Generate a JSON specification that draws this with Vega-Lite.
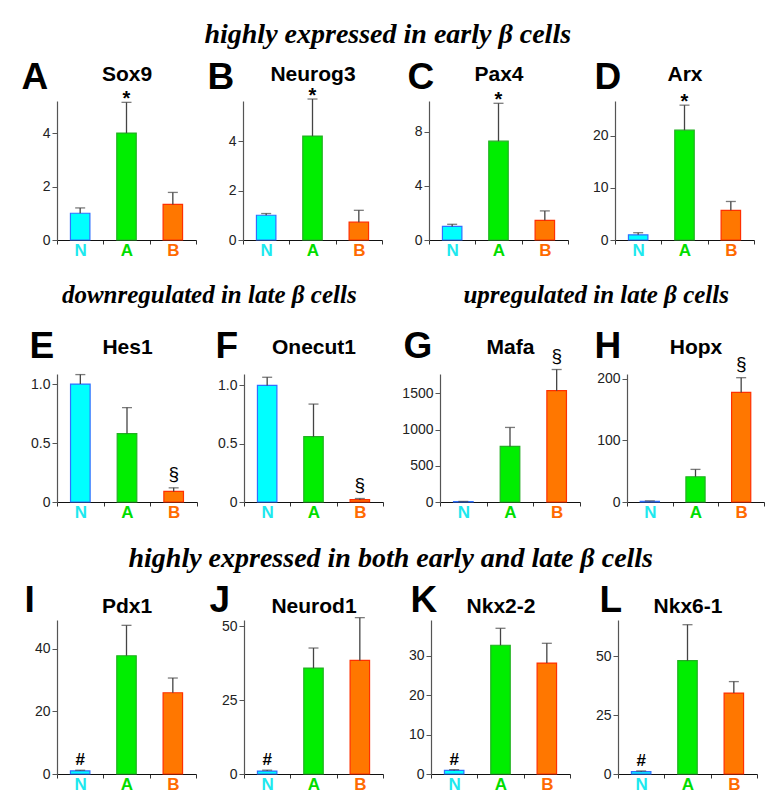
{
  "$schema": "https://vega.github.io/schema/vega-lite/v6.json",
  "background": "white",
  "padding": {"left": 21, "top": 21, "right": 0, "bottom": 0},
  "spacing": 25,
  "datasets": {
    "d": [
      {"gene": "Sox9", "cond": "N", "value": 1.0, "hi": 1.2, "sym": ""},
      {"gene": "Sox9", "cond": "A", "value": 4.0, "hi": 5.15, "sym": "*"},
      {"gene": "Sox9", "cond": "B", "value": 1.33, "hi": 1.78, "sym": ""},
      {"gene": "Neurog3", "cond": "N", "value": 1.0, "hi": 1.07, "sym": ""},
      {"gene": "Neurog3", "cond": "A", "value": 4.2, "hi": 5.7, "sym": "*"},
      {"gene": "Neurog3", "cond": "B", "value": 0.72, "hi": 1.2, "sym": ""},
      {"gene": "Pax4", "cond": "N", "value": 1.0, "hi": 1.16, "sym": ""},
      {"gene": "Pax4", "cond": "A", "value": 7.3, "hi": 10.1, "sym": "*"},
      {"gene": "Pax4", "cond": "B", "value": 1.45, "hi": 2.15, "sym": ""},
      {"gene": "Arx", "cond": "N", "value": 1.0, "hi": 1.4, "sym": ""},
      {"gene": "Arx", "cond": "A", "value": 21.1, "hi": 25.9, "sym": "*"},
      {"gene": "Arx", "cond": "B", "value": 5.7, "hi": 7.4, "sym": ""},
      {"gene": "Hes1", "cond": "N", "value": 1.0, "hi": 1.08, "sym": ""},
      {"gene": "Hes1", "cond": "A", "value": 0.58, "hi": 0.8, "sym": ""},
      {"gene": "Hes1", "cond": "B", "value": 0.09, "hi": 0.12, "sym": "§"},
      {"gene": "Onecut1", "cond": "N", "value": 1.0, "hi": 1.07, "sym": ""},
      {"gene": "Onecut1", "cond": "A", "value": 0.56, "hi": 0.84, "sym": ""},
      {"gene": "Onecut1", "cond": "B", "value": 0.02, "hi": 0.03, "sym": "§"},
      {"gene": "Mafa", "cond": "N", "value": 5, "hi": 8, "sym": ""},
      {"gene": "Mafa", "cond": "A", "value": 768, "hi": 1030, "sym": ""},
      {"gene": "Mafa", "cond": "B", "value": 1537, "hi": 1830, "sym": "§"},
      {"gene": "Hopx", "cond": "N", "value": 1.2, "hi": 1.8, "sym": ""},
      {"gene": "Hopx", "cond": "A", "value": 41, "hi": 53, "sym": ""},
      {"gene": "Hopx", "cond": "B", "value": 178, "hi": 202, "sym": "§"},
      {"gene": "Pdx1", "cond": "N", "value": 1.0, "hi": 1.2, "sym": "#"},
      {"gene": "Pdx1", "cond": "A", "value": 37.7, "hi": 47.4, "sym": ""},
      {"gene": "Pdx1", "cond": "B", "value": 25.9, "hi": 30.6, "sym": ""},
      {"gene": "Neurod1", "cond": "N", "value": 1.0, "hi": 1.3, "sym": "#"},
      {"gene": "Neurod1", "cond": "A", "value": 35.9, "hi": 42.7, "sym": ""},
      {"gene": "Neurod1", "cond": "B", "value": 38.5, "hi": 53, "sym": ""},
      {"gene": "Nkx2-2", "cond": "N", "value": 0.9, "hi": 1.1, "sym": "#"},
      {"gene": "Nkx2-2", "cond": "A", "value": 32.6, "hi": 36.9, "sym": ""},
      {"gene": "Nkx2-2", "cond": "B", "value": 28.1, "hi": 33.1, "sym": ""},
      {"gene": "Nkx6-1", "cond": "N", "value": 1.0, "hi": 1.3, "sym": "#"},
      {"gene": "Nkx6-1", "cond": "A", "value": 48.2, "hi": 63.5, "sym": ""},
      {"gene": "Nkx6-1", "cond": "B", "value": 34.4, "hi": 39.3, "sym": ""}
    ]
  },
  "data": {"name": "d"},
  "vconcat": [
    {
      "title": {"text": "highly expressed in early β cells", "offset": 9},
      "bounds": "flush",
      "spacing": 47,
      "hconcat": [
        {
          "width": 139, "height": 139,
          "transform": [{"filter": "datum.gene === 'Sox9'"}],
          "encoding": {
            "x": {"field": "cond", "type": "nominal", "sort": ["N", "A", "B"], "scale": {"paddingInner": 0, "paddingOuter": 0},
              "axis": {"title": "Sox9", "titleY": -160, "labelColor": {"condition": [{"test": "datum.value === 'N'", "value": "#1EE8EE"}, {"test": "datum.value === 'A'", "value": "#00DD00"}], "value": "#FF6A00"}}},
            "y": {"field": "value", "type": "quantitative", "scale": {"domain": [0, 5.2], "nice": false}, "title": "A",
              "axis": {"titleX": -36, "titleY": -13, "values": [0, 2, 4]}}
          },
          "layer": [
            {"mark": {"type": "bar", "width": {"band": 0.42}, "strokeWidth": 1.2}, "encoding": {"fill": {"field": "cond", "type": "nominal", "scale": {"domain": ["N", "A", "B"], "range": ["#00FFFF", "#00EE00", "#FF7700"]}, "legend": null}, "stroke": {"field": "cond", "type": "nominal", "scale": {"domain": ["N", "A", "B"], "range": ["#3070FF", "#22B022", "#FF3000"]}, "legend": null}}},
            {"mark": {"type": "rule", "color": "#444", "strokeWidth": 1.3}, "encoding": {"y2": {"field": "hi"}}},
            {"mark": {"type": "tick", "color": "#444", "thickness": 1.3, "size": 10}, "encoding": {"y": {"field": "hi", "type": "quantitative", "scale": {"domain": [0, 5.2], "nice": false}, "title": "A"}}},
            {"mark": {"type": "text", "font": "Liberation Sans", "fontSize": 20, "fontWeight": "bold", "baseline": "alphabetic", "dy": 3, "color": "#000"}, "encoding": {"y": {"field": "hi", "type": "quantitative", "scale": {"domain": [0, 5.2], "nice": false}, "title": "A"}, "text": {"field": "sym"}}}
          ]
        },
        {
          "width": 139, "height": 139,
          "transform": [{"filter": "datum.gene === 'Neurog3'"}],
          "encoding": {
            "x": {"field": "cond", "type": "nominal", "sort": ["N", "A", "B"], "scale": {"paddingInner": 0, "paddingOuter": 0},
              "axis": {"title": "Neurog3", "titleY": -160, "labelColor": {"condition": [{"test": "datum.value === 'N'", "value": "#1EE8EE"}, {"test": "datum.value === 'A'", "value": "#00DD00"}], "value": "#FF6A00"}}},
            "y": {"field": "value", "type": "quantitative", "scale": {"domain": [0, 5.62], "nice": false}, "title": "B",
              "axis": {"titleX": -36, "titleY": -13, "values": [0, 2, 4]}}
          },
          "layer": [
            {"mark": {"type": "bar", "width": {"band": 0.42}, "strokeWidth": 1.2}, "encoding": {"fill": {"field": "cond", "type": "nominal", "scale": {"domain": ["N", "A", "B"], "range": ["#00FFFF", "#00EE00", "#FF7700"]}, "legend": null}, "stroke": {"field": "cond", "type": "nominal", "scale": {"domain": ["N", "A", "B"], "range": ["#3070FF", "#22B022", "#FF3000"]}, "legend": null}}},
            {"mark": {"type": "rule", "color": "#444", "strokeWidth": 1.3}, "encoding": {"y2": {"field": "hi"}}},
            {"mark": {"type": "tick", "color": "#444", "thickness": 1.3, "size": 10}, "encoding": {"y": {"field": "hi", "type": "quantitative", "scale": {"domain": [0, 5.62], "nice": false}, "title": "B"}}},
            {"mark": {"type": "text", "font": "Liberation Sans", "fontSize": 20, "fontWeight": "bold", "baseline": "alphabetic", "dy": 3, "color": "#000"}, "encoding": {"y": {"field": "hi", "type": "quantitative", "scale": {"domain": [0, 5.62], "nice": false}, "title": "B"}, "text": {"field": "sym"}}}
          ]
        },
        {
          "width": 139, "height": 139,
          "transform": [{"filter": "datum.gene === 'Pax4'"}],
          "encoding": {
            "x": {"field": "cond", "type": "nominal", "sort": ["N", "A", "B"], "scale": {"paddingInner": 0, "paddingOuter": 0},
              "axis": {"title": "Pax4", "titleY": -160, "labelColor": {"condition": [{"test": "datum.value === 'N'", "value": "#1EE8EE"}, {"test": "datum.value === 'A'", "value": "#00DD00"}], "value": "#FF6A00"}}},
            "y": {"field": "value", "type": "quantitative", "scale": {"domain": [0, 10.27], "nice": false}, "title": "C",
              "axis": {"titleX": -22, "titleY": -13, "values": [0, 4, 8]}}
          },
          "layer": [
            {"mark": {"type": "bar", "width": {"band": 0.42}, "strokeWidth": 1.2}, "encoding": {"fill": {"field": "cond", "type": "nominal", "scale": {"domain": ["N", "A", "B"], "range": ["#00FFFF", "#00EE00", "#FF7700"]}, "legend": null}, "stroke": {"field": "cond", "type": "nominal", "scale": {"domain": ["N", "A", "B"], "range": ["#3070FF", "#22B022", "#FF3000"]}, "legend": null}}},
            {"mark": {"type": "rule", "color": "#444", "strokeWidth": 1.3}, "encoding": {"y2": {"field": "hi"}}},
            {"mark": {"type": "tick", "color": "#444", "thickness": 1.3, "size": 10}, "encoding": {"y": {"field": "hi", "type": "quantitative", "scale": {"domain": [0, 10.27], "nice": false}, "title": "C"}}},
            {"mark": {"type": "text", "font": "Liberation Sans", "fontSize": 20, "fontWeight": "bold", "baseline": "alphabetic", "dy": 3, "color": "#000"}, "encoding": {"y": {"field": "hi", "type": "quantitative", "scale": {"domain": [0, 10.27], "nice": false}, "title": "C"}, "text": {"field": "sym"}}}
          ]
        },
        {
          "width": 139, "height": 139,
          "transform": [{"filter": "datum.gene === 'Arx'"}],
          "encoding": {
            "x": {"field": "cond", "type": "nominal", "sort": ["N", "A", "B"], "scale": {"paddingInner": 0, "paddingOuter": 0},
              "axis": {"title": "Arx", "titleY": -160, "labelColor": {"condition": [{"test": "datum.value === 'N'", "value": "#1EE8EE"}, {"test": "datum.value === 'A'", "value": "#00DD00"}], "value": "#FF6A00"}}},
            "y": {"field": "value", "type": "quantitative", "scale": {"domain": [0, 26.7], "nice": false}, "title": "D",
              "axis": {"titleX": -21, "titleY": -13, "values": [0, 10, 20]}}
          },
          "layer": [
            {"mark": {"type": "bar", "width": {"band": 0.42}, "strokeWidth": 1.2}, "encoding": {"fill": {"field": "cond", "type": "nominal", "scale": {"domain": ["N", "A", "B"], "range": ["#00FFFF", "#00EE00", "#FF7700"]}, "legend": null}, "stroke": {"field": "cond", "type": "nominal", "scale": {"domain": ["N", "A", "B"], "range": ["#3070FF", "#22B022", "#FF3000"]}, "legend": null}}},
            {"mark": {"type": "rule", "color": "#444", "strokeWidth": 1.3}, "encoding": {"y2": {"field": "hi"}}},
            {"mark": {"type": "tick", "color": "#444", "thickness": 1.3, "size": 10}, "encoding": {"y": {"field": "hi", "type": "quantitative", "scale": {"domain": [0, 26.7], "nice": false}, "title": "D"}}},
            {"mark": {"type": "text", "font": "Liberation Sans", "fontSize": 20, "fontWeight": "bold", "baseline": "alphabetic", "dy": 3, "color": "#000"}, "encoding": {"y": {"field": "hi", "type": "quantitative", "scale": {"domain": [0, 26.7], "nice": false}, "title": "D"}, "text": {"field": "sym"}}}
          ]
        }
      ]
    },
    {
      "spacing": 17,
      "hconcat": [
        {
          "title": {"text": "downregulated in late β cells", "offset": 19, "fontSize": 25, "dx": 3},
          "bounds": "flush",
          "spacing": 47,
          "hconcat": [
            {
              "width": 140, "height": 128,
              "transform": [{"filter": "datum.gene === 'Hes1'"}],
              "encoding": {
                "x": {"field": "cond", "type": "nominal", "sort": ["N", "A", "B"], "scale": {"paddingInner": 0, "paddingOuter": 0},
                  "axis": {"title": "Hes1", "titleY": -149, "labelColor": {"condition": [{"test": "datum.value === 'N'", "value": "#1EE8EE"}, {"test": "datum.value === 'A'", "value": "#00DD00"}], "value": "#FF6A00"}}},
                "y": {"field": "value", "type": "quantitative", "scale": {"domain": [0, 1.085], "nice": false}, "title": "E",
                  "axis": {"titleX": -28, "titleY": -17, "values": [0, 0.5, 1], "labelExpr": "datum.value == 0 ? '0' : format(datum.value, '.1f')"}}
              },
              "layer": [
                {"mark": {"type": "bar", "width": {"band": 0.42}, "strokeWidth": 1.2}, "encoding": {"fill": {"field": "cond", "type": "nominal", "scale": {"domain": ["N", "A", "B"], "range": ["#00FFFF", "#00EE00", "#FF7700"]}, "legend": null}, "stroke": {"field": "cond", "type": "nominal", "scale": {"domain": ["N", "A", "B"], "range": ["#3070FF", "#22B022", "#FF3000"]}, "legend": null}}},
                {"mark": {"type": "rule", "color": "#444", "strokeWidth": 1.3}, "encoding": {"y2": {"field": "hi"}}},
                {"mark": {"type": "tick", "color": "#444", "thickness": 1.3, "size": 10}, "encoding": {"y": {"field": "hi", "type": "quantitative", "scale": {"domain": [0, 1.085], "nice": false}, "title": "E"}}},
                {"mark": {"type": "text", "font": "Liberation Sans", "fontSize": 19, "baseline": "alphabetic", "dy": -8, "color": "#000"}, "encoding": {"y": {"field": "hi", "type": "quantitative", "scale": {"domain": [0, 1.085], "nice": false}, "title": "E"}, "text": {"field": "sym"}}}
              ]
            },
            {
              "width": 139, "height": 128,
              "transform": [{"filter": "datum.gene === 'Onecut1'"}],
              "encoding": {
                "x": {"field": "cond", "type": "nominal", "sort": ["N", "A", "B"], "scale": {"paddingInner": 0, "paddingOuter": 0},
                  "axis": {"title": "Onecut1", "titleY": -149, "labelColor": {"condition": [{"test": "datum.value === 'N'", "value": "#1EE8EE"}, {"test": "datum.value === 'A'", "value": "#00DD00"}], "value": "#FF6A00"}}},
                "y": {"field": "value", "type": "quantitative", "scale": {"domain": [0, 1.098], "nice": false}, "title": "F",
                  "axis": {"titleX": -29, "titleY": -17, "values": [0, 0.5, 1], "labelExpr": "datum.value == 0 ? '0' : format(datum.value, '.1f')"}}
              },
              "layer": [
                {"mark": {"type": "bar", "width": {"band": 0.42}, "strokeWidth": 1.2}, "encoding": {"fill": {"field": "cond", "type": "nominal", "scale": {"domain": ["N", "A", "B"], "range": ["#00FFFF", "#00EE00", "#FF7700"]}, "legend": null}, "stroke": {"field": "cond", "type": "nominal", "scale": {"domain": ["N", "A", "B"], "range": ["#3070FF", "#22B022", "#FF3000"]}, "legend": null}}},
                {"mark": {"type": "rule", "color": "#444", "strokeWidth": 1.3}, "encoding": {"y2": {"field": "hi"}}},
                {"mark": {"type": "tick", "color": "#444", "thickness": 1.3, "size": 10}, "encoding": {"y": {"field": "hi", "type": "quantitative", "scale": {"domain": [0, 1.098], "nice": false}, "title": "F"}}},
                {"mark": {"type": "text", "font": "Liberation Sans", "fontSize": 19, "baseline": "alphabetic", "dy": -8, "color": "#000"}, "encoding": {"y": {"field": "hi", "type": "quantitative", "scale": {"domain": [0, 1.098], "nice": false}, "title": "F"}, "text": {"field": "sym"}}}
              ]
            }
          ]
        },
        {
          "title": {"text": "upregulated in late β cells", "offset": 19, "fontSize": 25, "dx": 13},
          "bounds": "flush",
          "spacing": 47,
          "hconcat": [
            {
              "width": 140, "height": 128,
              "transform": [{"filter": "datum.gene === 'Mafa'"}],
              "encoding": {
                "x": {"field": "cond", "type": "nominal", "sort": ["N", "A", "B"], "scale": {"paddingInner": 0, "paddingOuter": 0},
                  "axis": {"title": "Mafa", "titleY": -149, "labelColor": {"condition": [{"test": "datum.value === 'N'", "value": "#1EE8EE"}, {"test": "datum.value === 'A'", "value": "#00DD00"}], "value": "#FF6A00"}}},
                "y": {"field": "value", "type": "quantitative", "scale": {"domain": [0, 1768], "nice": false}, "title": "G",
                  "axis": {"titleX": -37, "titleY": -17, "values": [0, 500, 1000, 1500], "format": "d"}}
              },
              "layer": [
                {"mark": {"type": "bar", "width": {"band": 0.42}, "strokeWidth": 1.2}, "encoding": {"fill": {"field": "cond", "type": "nominal", "scale": {"domain": ["N", "A", "B"], "range": ["#00FFFF", "#00EE00", "#FF7700"]}, "legend": null}, "stroke": {"field": "cond", "type": "nominal", "scale": {"domain": ["N", "A", "B"], "range": ["#3070FF", "#22B022", "#FF3000"]}, "legend": null}}},
                {"mark": {"type": "rule", "color": "#444", "strokeWidth": 1.3}, "encoding": {"y2": {"field": "hi"}}},
                {"mark": {"type": "tick", "color": "#444", "thickness": 1.3, "size": 10}, "encoding": {"y": {"field": "hi", "type": "quantitative", "scale": {"domain": [0, 1768], "nice": false}, "title": "G"}}},
                {"mark": {"type": "text", "font": "Liberation Sans", "fontSize": 19, "baseline": "alphabetic", "dy": -8, "color": "#000"}, "encoding": {"y": {"field": "hi", "type": "quantitative", "scale": {"domain": [0, 1768], "nice": false}, "title": "G"}, "text": {"field": "sym"}}}
              ]
            },
            {
              "width": 137, "height": 128,
              "transform": [{"filter": "datum.gene === 'Hopx'"}],
              "encoding": {
                "x": {"field": "cond", "type": "nominal", "sort": ["N", "A", "B"], "scale": {"paddingInner": 0, "paddingOuter": 0},
                  "axis": {"title": "Hopx", "titleY": -149, "labelColor": {"condition": [{"test": "datum.value === 'N'", "value": "#1EE8EE"}, {"test": "datum.value === 'A'", "value": "#00DD00"}], "value": "#FF6A00"}}},
                "y": {"field": "value", "type": "quantitative", "scale": {"domain": [0, 208], "nice": false}, "title": "H",
                  "axis": {"titleX": -33, "titleY": -17, "values": [0, 100, 200], "format": "d"}}
              },
              "layer": [
                {"mark": {"type": "bar", "width": {"band": 0.42}, "strokeWidth": 1.2}, "encoding": {"fill": {"field": "cond", "type": "nominal", "scale": {"domain": ["N", "A", "B"], "range": ["#00FFFF", "#00EE00", "#FF7700"]}, "legend": null}, "stroke": {"field": "cond", "type": "nominal", "scale": {"domain": ["N", "A", "B"], "range": ["#3070FF", "#22B022", "#FF3000"]}, "legend": null}}},
                {"mark": {"type": "rule", "color": "#444", "strokeWidth": 1.3}, "encoding": {"y2": {"field": "hi"}}},
                {"mark": {"type": "tick", "color": "#444", "thickness": 1.3, "size": 10}, "encoding": {"y": {"field": "hi", "type": "quantitative", "scale": {"domain": [0, 208], "nice": false}, "title": "H"}}},
                {"mark": {"type": "text", "font": "Liberation Sans", "fontSize": 19, "baseline": "alphabetic", "dy": -8, "color": "#000"}, "encoding": {"y": {"field": "hi", "type": "quantitative", "scale": {"domain": [0, 208], "nice": false}, "title": "H"}, "text": {"field": "sym"}}}
              ]
            }
          ]
        }
      ]
    },
    {
      "title": {"text": "highly expressed in both early and late β cells", "offset": 8},
      "bounds": "flush",
      "spacing": 48,
      "hconcat": [
        {
          "width": 139, "height": 154,
          "transform": [{"filter": "datum.gene === 'Pdx1'"}],
          "encoding": {
            "x": {"field": "cond", "type": "nominal", "sort": ["N", "A", "B"], "scale": {"paddingInner": 0, "paddingOuter": 0},
              "axis": {"title": "Pdx1", "titleY": -162, "labelColor": {"condition": [{"test": "datum.value === 'N'", "value": "#1EE8EE"}, {"test": "datum.value === 'A'", "value": "#00DD00"}], "value": "#FF6A00"}}},
            "y": {"field": "value", "type": "quantitative", "scale": {"domain": [0, 49.1], "nice": false}, "title": "I",
              "axis": {"titleX": -33, "titleY": -9, "values": [0, 20, 40]}}
          },
          "layer": [
            {"mark": {"type": "bar", "width": {"band": 0.42}, "strokeWidth": 1.2}, "encoding": {"fill": {"field": "cond", "type": "nominal", "scale": {"domain": ["N", "A", "B"], "range": ["#00FFFF", "#00EE00", "#FF7700"]}, "legend": null}, "stroke": {"field": "cond", "type": "nominal", "scale": {"domain": ["N", "A", "B"], "range": ["#3070FF", "#22B022", "#FF3000"]}, "legend": null}}},
            {"mark": {"type": "rule", "color": "#444", "strokeWidth": 1.3}, "encoding": {"y2": {"field": "hi"}}},
            {"mark": {"type": "tick", "color": "#444", "thickness": 1.3, "size": 10}, "encoding": {"y": {"field": "hi", "type": "quantitative", "scale": {"domain": [0, 49.1], "nice": false}, "title": "I"}}},
            {"mark": {"type": "text", "font": "Liberation Sans", "fontSize": 17, "fontWeight": "bold", "baseline": "alphabetic", "dy": -5, "color": "#000"}, "encoding": {"y": {"field": "hi", "type": "quantitative", "scale": {"domain": [0, 49.1], "nice": false}, "title": "I"}, "text": {"field": "sym"}}}
          ]
        },
        {
          "width": 139, "height": 154,
          "transform": [{"filter": "datum.gene === 'Neurod1'"}],
          "encoding": {
            "x": {"field": "cond", "type": "nominal", "sort": ["N", "A", "B"], "scale": {"paddingInner": 0, "paddingOuter": 0},
              "axis": {"title": "Neurod1", "titleY": -162, "labelColor": {"condition": [{"test": "datum.value === 'N'", "value": "#1EE8EE"}, {"test": "datum.value === 'A'", "value": "#00DD00"}], "value": "#FF6A00"}}},
            "y": {"field": "value", "type": "quantitative", "scale": {"domain": [0, 52.2], "nice": false}, "title": "J",
              "axis": {"titleX": -35, "titleY": -9, "values": [0, 25, 50]}}
          },
          "layer": [
            {"mark": {"type": "bar", "width": {"band": 0.42}, "strokeWidth": 1.2}, "encoding": {"fill": {"field": "cond", "type": "nominal", "scale": {"domain": ["N", "A", "B"], "range": ["#00FFFF", "#00EE00", "#FF7700"]}, "legend": null}, "stroke": {"field": "cond", "type": "nominal", "scale": {"domain": ["N", "A", "B"], "range": ["#3070FF", "#22B022", "#FF3000"]}, "legend": null}}},
            {"mark": {"type": "rule", "color": "#444", "strokeWidth": 1.3}, "encoding": {"y2": {"field": "hi"}}},
            {"mark": {"type": "tick", "color": "#444", "thickness": 1.3, "size": 10}, "encoding": {"y": {"field": "hi", "type": "quantitative", "scale": {"domain": [0, 52.2], "nice": false}, "title": "J"}}},
            {"mark": {"type": "text", "font": "Liberation Sans", "fontSize": 17, "fontWeight": "bold", "baseline": "alphabetic", "dy": -5, "color": "#000"}, "encoding": {"y": {"field": "hi", "type": "quantitative", "scale": {"domain": [0, 52.2], "nice": false}, "title": "J"}, "text": {"field": "sym"}}}
          ]
        },
        {
          "width": 139, "height": 154,
          "transform": [{"filter": "datum.gene === 'Nkx2-2'"}],
          "encoding": {
            "x": {"field": "cond", "type": "nominal", "sort": ["N", "A", "B"], "scale": {"paddingInner": 0, "paddingOuter": 0},
              "axis": {"title": "Nkx2-2", "titleY": -162, "labelColor": {"condition": [{"test": "datum.value === 'N'", "value": "#1EE8EE"}, {"test": "datum.value === 'A'", "value": "#00DD00"}], "value": "#FF6A00"}}},
            "y": {"field": "value", "type": "quantitative", "scale": {"domain": [0, 39], "nice": false}, "title": "K",
              "axis": {"titleX": -21, "titleY": -9, "values": [0, 10, 20, 30]}}
          },
          "layer": [
            {"mark": {"type": "bar", "width": {"band": 0.42}, "strokeWidth": 1.2}, "encoding": {"fill": {"field": "cond", "type": "nominal", "scale": {"domain": ["N", "A", "B"], "range": ["#00FFFF", "#00EE00", "#FF7700"]}, "legend": null}, "stroke": {"field": "cond", "type": "nominal", "scale": {"domain": ["N", "A", "B"], "range": ["#3070FF", "#22B022", "#FF3000"]}, "legend": null}}},
            {"mark": {"type": "rule", "color": "#444", "strokeWidth": 1.3}, "encoding": {"y2": {"field": "hi"}}},
            {"mark": {"type": "tick", "color": "#444", "thickness": 1.3, "size": 10}, "encoding": {"y": {"field": "hi", "type": "quantitative", "scale": {"domain": [0, 39], "nice": false}, "title": "K"}}},
            {"mark": {"type": "text", "font": "Liberation Sans", "fontSize": 17, "fontWeight": "bold", "baseline": "alphabetic", "dy": -5, "color": "#000"}, "encoding": {"y": {"field": "hi", "type": "quantitative", "scale": {"domain": [0, 39], "nice": false}, "title": "K"}, "text": {"field": "sym"}}}
          ]
        },
        {
          "width": 139, "height": 154,
          "transform": [{"filter": "datum.gene === 'Nkx6-1'"}],
          "encoding": {
            "x": {"field": "cond", "type": "nominal", "sort": ["N", "A", "B"], "scale": {"paddingInner": 0, "paddingOuter": 0},
              "axis": {"title": "Nkx6-1", "titleY": -162, "labelColor": {"condition": [{"test": "datum.value === 'N'", "value": "#1EE8EE"}, {"test": "datum.value === 'A'", "value": "#00DD00"}], "value": "#FF6A00"}}},
            "y": {"field": "value", "type": "quantitative", "scale": {"domain": [0, 65.5], "nice": false}, "title": "L",
              "axis": {"titleX": -19, "titleY": -9, "values": [0, 25, 50]}}
          },
          "layer": [
            {"mark": {"type": "bar", "width": {"band": 0.42}, "strokeWidth": 1.2}, "encoding": {"fill": {"field": "cond", "type": "nominal", "scale": {"domain": ["N", "A", "B"], "range": ["#00FFFF", "#00EE00", "#FF7700"]}, "legend": null}, "stroke": {"field": "cond", "type": "nominal", "scale": {"domain": ["N", "A", "B"], "range": ["#3070FF", "#22B022", "#FF3000"]}, "legend": null}}},
            {"mark": {"type": "rule", "color": "#444", "strokeWidth": 1.3}, "encoding": {"y2": {"field": "hi"}}},
            {"mark": {"type": "tick", "color": "#444", "thickness": 1.3, "size": 10}, "encoding": {"y": {"field": "hi", "type": "quantitative", "scale": {"domain": [0, 65.5], "nice": false}, "title": "L"}}},
            {"mark": {"type": "text", "font": "Liberation Sans", "fontSize": 17, "fontWeight": "bold", "baseline": "alphabetic", "dy": -5, "color": "#000"}, "encoding": {"y": {"field": "hi", "type": "quantitative", "scale": {"domain": [0, 65.5], "nice": false}, "title": "L"}, "text": {"field": "sym"}}}
          ]
        }
      ]
    }
  ],
  "config": {
    "view": {"stroke": null},
    "font": "Liberation Sans",
    "title": {"font": "Liberation Serif", "fontStyle": "italic", "fontWeight": "bold", "fontSize": 28, "anchor": "middle", "baseline": "alphabetic", "color": "#000"},
    "axisX": {"domainColor": "#111", "domainWidth": 1.2, "tickColor": "#333", "tickWidth": 1, "tickSize": 4, "tickBand": "extent", "labelFont": "Liberation Sans", "labelFontSize": 17, "labelFontWeight": "bold", "labelAngle": 0, "labelPadding": -2, "titleFont": "Liberation Sans", "titleFontSize": 21, "titleFontWeight": "bold", "titleColor": "#000", "titleBaseline": "alphabetic", "titlePadding": 0},
    "axisY": {"domainColor": "#555", "domainWidth": 1.2, "tickColor": "#555", "tickSize": 5, "labelFont": "Liberation Sans", "labelFontSize": 14, "labelColor": "#222", "grid": false, "titleAngle": 0, "titleAlign": "left", "titleBaseline": "alphabetic", "titleFont": "Liberation Sans", "titleFontSize": 37, "titleFontWeight": "bold", "titleColor": "#000"}
  }
}
